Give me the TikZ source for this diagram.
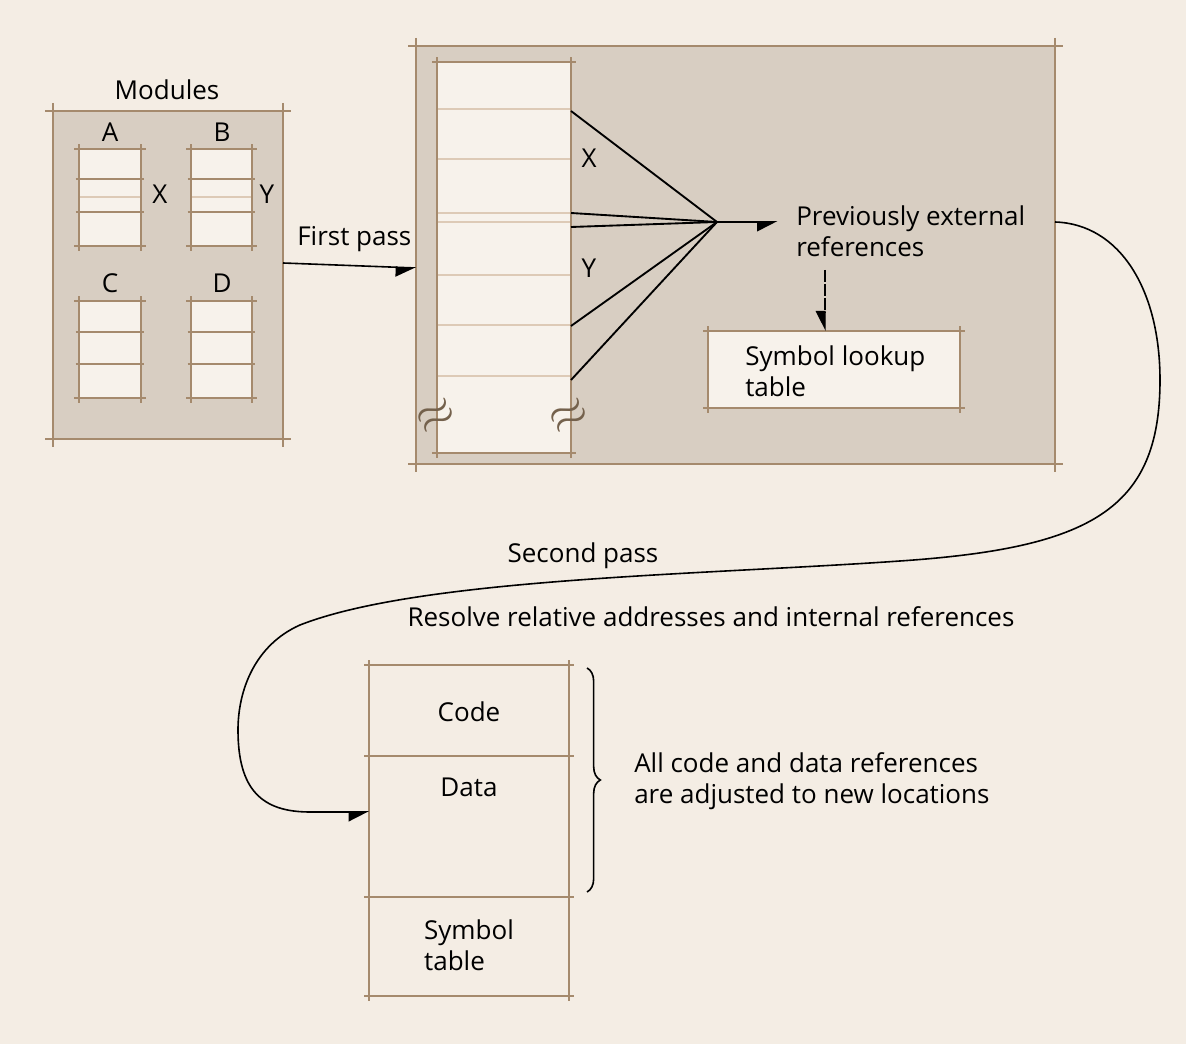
\documentclass[tikz,border=0pt]{standalone}
\usepackage{fontspec}
\setmainfont{Open Sans}
\usetikzlibrary{arrows.meta,decorations.pathreplacing,calc,fit}

\definecolor{paper}{HTML}{F4EDE4}
\definecolor{panel}{HTML}{D8CEC2}
\definecolor{cell}{HTML}{F7F2EB}
\definecolor{rule}{HTML}{A58A6D}
\definecolor{faint}{HTML}{DDCAB6}

% draw the four sides of a box node, each side running a little past the corners
\newcommand{\tickbox}[2][1.6pt]{%
  \draw[edge, line width=#1] (#2.north west) -- (#2.north east);
  \draw[edge, line width=#1] (#2.south west) -- (#2.south east);
  \draw[edge, line width=#1] (#2.north west) -- (#2.south west);
  \draw[edge, line width=#1] (#2.north east) -- (#2.south east);}

\begin{document}
\begin{tikzpicture}[x=0.75pt,y=0.75pt,
  font=\fontsize{19.5}{23.5}\selectfont,
  area/.style={inner sep=0pt, outer sep=0pt},
  edge/.style={draw=rule, shorten <=-3.5pt, shorten >=-3.5pt},
  longedge/.style={edge/.append style={shorten <=-6pt, shorten >=-6pt}},
  divider/.style={draw=rule, line width=1.6pt, shorten <=-2.5pt, shorten >=-2.5pt},
  softrule/.style={draw=faint, line width=1.3pt},
  lbl/.style={inner sep=0pt, text=black},
  conn/.style={draw=black, line width=1.2pt},
  tip/.tip={Triangle[length=14pt,width=14pt,harpoon,swap]},
  arr/.style={conn, -tip},
  fan/.style={draw=black, line width=1.4pt}]

\useasboundingbox (0,0) rectangle (1186,-1044);
\fill[paper] (0,0) rectangle (1186,-1044);

% ---------------- modules ----------------
\node[area, fill=panel, fit={(53,-111) (283,-439)}] (mods) {};
\begin{scope}[longedge]\tickbox{mods}\end{scope}
\node[lbl] (modt) at (167,-90) {Modules};

\node[area, fill=cell, fit={(79,-149) (141,-246)}] (modA) {};
\node[area, fill=cell, fit={(191,-149) (252,-246)}] (modB) {};
\node[area, fill=cell, fit={(79,-301) (141,-398)}] (modC) {};
\node[area, fill=cell, fit={(191,-301) (252,-398)}] (modD) {};
\foreach \m in {modA,modB}{
  \draw[softrule] (\m.west |- 0,-197) -- (\m.east |- 0,-197);
  \draw[divider] (\m.west |- 0,-179) -- (\m.east |- 0,-179);
  \draw[divider] (\m.west |- 0,-212) -- (\m.east |- 0,-212);
  \tickbox{\m}}
\foreach \m in {modC,modD}{
  \draw[divider] (\m.west |- 0,-332) -- (\m.east |- 0,-332);
  \draw[divider] (\m.west |- 0,-364) -- (\m.east |- 0,-364);
  \tickbox{\m}}

\node[lbl] (labA) at (110,-132) {A};
\node[lbl] (labB) at (222,-132) {B};
\node[lbl] (labC) at (110,-283) {C};
\node[lbl] (labD) at (222,-283) {D};
\node[lbl] (labX) at (160,-194) {X};
\node[lbl] (labY) at (267,-194) {Y};

% ---------------- first pass ----------------
\node[area, fill=panel, fit={(416,-46) (1055,-464)}] (main) {};
\begin{scope}[longedge]\tickbox{main}\end{scope}
\node[lbl, anchor=west] (fpass) at (297,-239) {First pass};
\draw[arr] (mods.east |- 0,-263) -- (main.west |- 0,-268);

% memory column
\node[area, fill=cell, fit={(437,-62) (571,-453)}] (col) {};
\foreach \yy in {109,159,213,222,275,325,376}
  \draw[softrule] (col.west |- 0,-\yy) -- (col.east |- 0,-\yy);
\tickbox[1.3pt]{col}
\node[rotate=30, scale=1.8, text=rule!70!black] (gapL) at (436,-416) {$\approx$};
\node[rotate=30, scale=1.8, text=rule!70!black] (gapR) at (569,-416) {$\approx$};

\node[lbl] (colX) at (589,-158) {X};
\node[lbl] (colY) at (589,-268) {Y};

% external references gathered at one point
\coordinate (hub) at (717,-222);
\foreach \yy in {111,213,227,326,380}
  \draw[fan] (col.east |- 0,-\yy) -- (hub);

\node[lbl, anchor=west, align=left] (prev) at (796,-231) {Previously external\\references};
\draw[arr] (hub) -- ([xshift=-14pt]prev.west |- hub);

\node[area, fill=cell, fit={(708,-331) (960,-408)}] (lookup) {};
\tickbox[1.4pt]{lookup}
\node[lbl, align=left, anchor=west] (lookt) at (745,-371) {Symbol lookup\\table};

\coordinate (drop) at (825,-270);
\draw[conn, line width=1pt, dash pattern=on 9pt off 1.5pt, -tip] (drop) -- (drop |- lookup.north);

% ---------------- second pass ----------------
\node[area, fit={(369,-665) (569,-756)}] (code) {};
\node[area, fit={(369,-756) (569,-897)}] (data) {};
\node[area, fit={(369,-897) (569,-996)}] (symtab) {};
\tickbox[1.4pt]{code}
\tickbox[1.4pt]{data}
\tickbox[1.4pt]{symtab}
\node[lbl] (codet) at (469,-712) {Code};
\node[lbl] (datat) at (469,-787) {Data};
\node[lbl, align=left] (symt) at (469,-945) {Symbol\\table};

\node[lbl] (spass) at (583,-556) {Second pass};
\node[lbl] (resolve) at (711,-617) {Resolve relative addresses and internal references};

\draw[arr] (main.east |- 0,-222)
  .. controls (1120,-224) and (1160,-290) .. (1160,-380)
  .. controls (1160,-510) and (1090,-548) .. (900,-561)
  .. controls (700,-575) and (420,-578) .. (300,-625)
  .. controls (255,-645) and (238,-690) .. (238,-730)
  .. controls (238,-790) and (262,-812) .. (310,-812)
  -- (data.west |- 0,-812);

\draw[conn, decorate, decoration={brace, amplitude=10pt}]
  ($(code.north east)+(18,-3)$) -- ($(data.south east)+(18,5)$);
\node[lbl, anchor=west, align=left] (adjust) at (634,-781) {All code and data references\\are adjusted to new locations};

\end{tikzpicture}
\end{document}
